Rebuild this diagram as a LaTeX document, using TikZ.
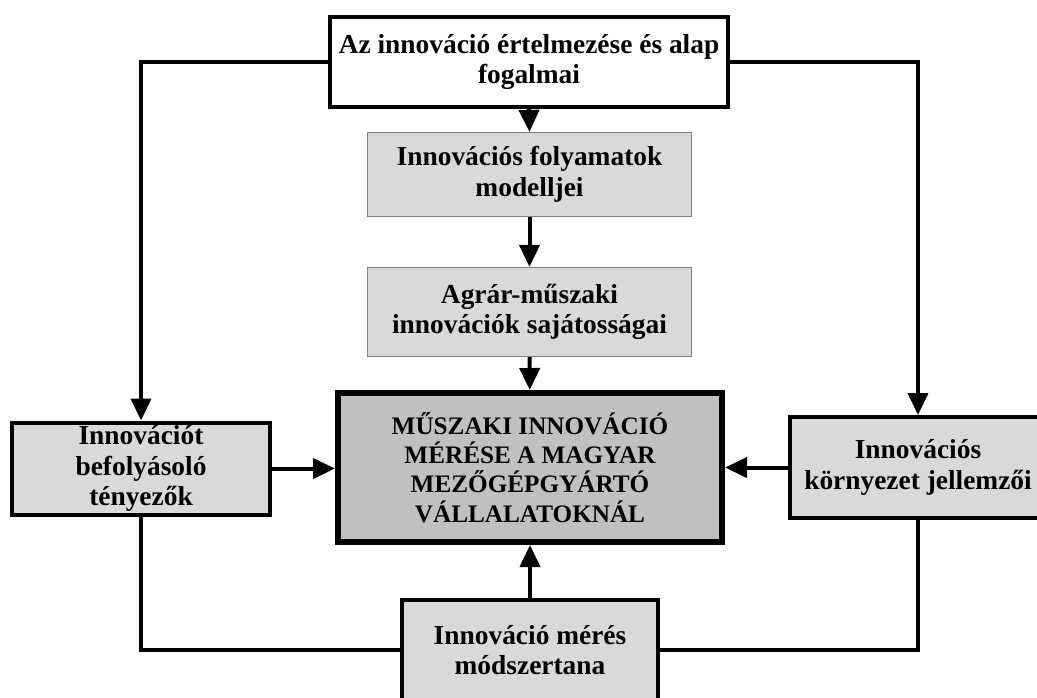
\documentclass[tikz,border=0pt]{standalone}
\usepackage{fontspec}
\setmainfont{Liberation Serif}
\usetikzlibrary{arrows.meta,positioning}
\definecolor{colBox}{RGB}{217,217,217}
\definecolor{colMain}{RGB}{192,192,192}
\definecolor{colThin}{RGB}{128,128,128}
\tikzset{
  wblock/.style   = {rectangle, draw=black, line width=2pt, fill=white,
                     align=center, inner sep=0pt,
                     font=\bfseries\fontsize{13.7}{15.3}\selectfont},
  gblock/.style   = {wblock, fill=colBox},
  tblock/.style   = {wblock, draw=colThin, line width=0.6pt, fill=colBox},
  mainblock/.style= {wblock, line width=3pt, fill=colMain,
                     font=\bfseries\fontsize{12.6}{14.6}\selectfont},
  arr/.style      = {-{Triangle[length=11pt,width=10pt]}, line width=2pt},
  ln/.style       = {line width=2pt},
}

\begin{document}
\begin{tikzpicture}[x=0.5pt, y=-0.5pt]
\useasboundingbox (0,0) rectangle (1037,697);
\clip (0,0) rectangle (1037,697);

%% Column in the middle
\node[wblock, minimum width=199pt, minimum height=45pt]
  (alap)   at (529,62)    {Az innováció értelmezése és alap\\fogalmai};
\node[tblock, minimum width=162pt, minimum height=42pt]
  (folyam) at (529.5,174.5) {Innovációs folyamatok\\modelljei};
\node[tblock, minimum width=162pt, minimum height=44.5pt]
  (agrar)  at (529.5,312) {Agrár-műszaki\\innovációk sajátosságai};
\node[mainblock, minimum width=192pt, minimum height=74.5pt]
  (main)   at (530,467.5) {MŰSZAKI INNOVÁCIÓ\\MÉRÉSE A MAGYAR\\MEZŐGÉPGYÁRTÓ\\VÁLLALATOKNÁL};

%% Side and bottom boxes
\node[gblock, minimum width=129pt, minimum height=46pt]
  (tenyezo) at (141,468.5) {Innovációt\\befolyásoló\\tényezők};
\node[gblock, minimum width=128pt, minimum height=50.5pt]
  (kornyezet) at (918,467.5) {Innovációs\\környezet jellemzői};
\node[gblock, minimum width=128pt, minimum height=50pt]
  (meres)  at (530,650)   {Innováció mérés\\módszertana};

%% Arrows
\draw[arr] (alap.west) -| (tenyezo.north);
\draw[arr] (alap.east) -| (kornyezet.north);
\draw[arr] (alap.south) -- (folyam.north);
\draw[arr] (folyam) -- (agrar);
\draw[arr] (agrar) -- (main);
\draw[arr] (tenyezo.east) -- (tenyezo.east -| main.west);
\draw[arr] (kornyezet.west) -- (kornyezet.west -| main.east);
\draw[arr] (meres) -- (main);
\draw[ln]  (tenyezo.south) |- (meres.west);
\draw[ln]  (kornyezet.south) |- (meres.east);

\end{tikzpicture}
\end{document}
